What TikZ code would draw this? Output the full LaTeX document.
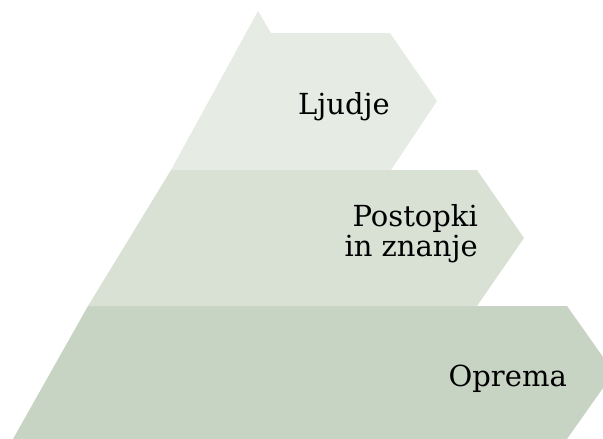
\documentclass[tikz,border=0pt]{standalone}
\usepackage{fontspec}
\setmainfont{DejaVu Serif}
\usepackage{tikz}

\begin{document}
\begin{tikzpicture}[x=1pt,y=1pt,yscale=-1,
    lbl/.style={font=\fontsize{29}{29.5}\selectfont, inner sep=0pt, align=right}]
	\useasboundingbox (0,0) rectangle (603,439);
	
	%Shape: Polygon [id:oprema]
	\fill [color={rgb, 255:red, 200; green, 212; blue, 195 }] (88,306) -- (567,306) -- (614,372.5) -- (567,439) -- (13,439) -- cycle ;
	%Shape: Polygon [id:postopki]
	\fill [color={rgb, 255:red, 217; green, 225; blue, 213 }] (171,170) -- (477,170) -- (524,238) -- (477,306) -- (88,306) -- cycle ;
	%Shape: Polygon [id:ljudje]
	\fill [color={rgb, 255:red, 230; green, 236; blue, 228 }] (258,11) -- (271,33) -- (390,33) -- (437,101) -- (391,170) -- (171,170) -- cycle ;
	
	%Labels
	\node [lbl, anchor=base east] (ljudje) at (390,114) {Ljudje};
	\node [lbl, anchor=base east] (postopki) at (478,256) {Postopki\\in znanje};
	\node [lbl, anchor=base east] (oprema) at (567,386) {Oprema};
	
\end{tikzpicture}
\end{document}
